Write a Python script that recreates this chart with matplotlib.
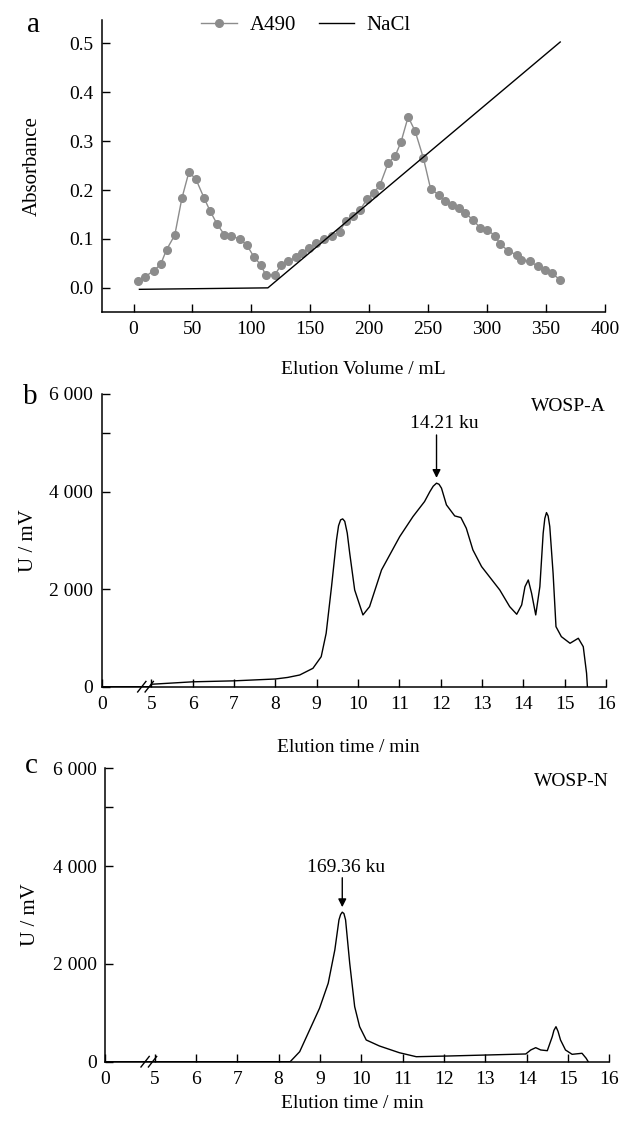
import numpy as np
import matplotlib.pyplot as plt
from matplotlib.transforms import blended_transform_factory

plt.rcParams['font.family'] = ['Liberation Serif', 'DejaVu Serif']

# panel a: DEAE column elution
volume = [4, 10, 17, 23, 28, 35, 41, 47, 53, 60,
          65, 71, 77, 83, 90, 96, 102, 108, 112, 120,
          125, 131, 138, 143, 149, 155,
          162, 168, 175, 180, 186, 192, 198, 204, 209, 216,
          222, 227, 233, 239, 246, 252, 259, 264, 270, 276,
          281, 288, 294, 300, 307, 311, 318, 325, 329, 336,
          343, 349, 355, 362]
a490 = [0.014, 0.023, 0.035, 0.048, 0.078, 0.108, 0.183, 0.237, 0.222, 0.183,
        0.157, 0.130, 0.109, 0.106, 0.100, 0.088, 0.064, 0.047, 0.027, 0.027,
        0.046, 0.054, 0.063, 0.072, 0.082, 0.091,
        0.100, 0.106, 0.115, 0.137, 0.147, 0.159, 0.181, 0.195, 0.210, 0.255,
        0.270, 0.299, 0.350, 0.320, 0.265, 0.203, 0.190, 0.177, 0.169, 0.163,
        0.154, 0.139, 0.123, 0.119, 0.106, 0.089, 0.076, 0.067, 0.057, 0.055,
        0.044, 0.036, 0.030, 0.016]
nacl_vol = [5, 114, 362]
nacl = [-0.003, 0.0, 0.503]

# panel b: WOSP-A HPGPC
tb = [0, 5, 5, 6, 7, 8, 8.3, 8.59, 8.91, 9.11, 9.23, 9.36, 9.48, 9.53, 9.58,
      9.63, 9.68, 9.74, 9.8, 9.92, 10.12, 10.28, 10.57, 11.01, 11.33, 11.61,
      11.74, 11.82, 11.9, 11.96, 12.02, 12.14, 12.34, 12.49, 12.62, 12.78,
      12.99, 13.43, 13.67, 13.84, 13.96, 14.04, 14.12, 14.2, 14.3, 14.4,
      14.48, 14.52, 14.56, 14.6, 14.64, 14.72, 14.79, 14.92, 15.13, 15.33,
      15.45, 15.53, 15.55]
ub = [0, 0, 50, 100, 120, 158, 190, 240, 377, 615, 1095, 2051, 3009, 3300, 3420,
      3440, 3390, 3150, 2736, 1983, 1471, 1641, 2394, 3077, 3487, 3795,
      4000, 4110, 4172, 4150, 4070, 3727, 3501, 3467, 3249, 2804,
      2462, 1983, 1641, 1485, 1676, 2051, 2188, 1915, 1471, 2051,
      3146, 3450, 3569, 3500, 3282, 2326, 1231, 1026, 890, 993,
      820, 275, 0]

# panel c: WOSP-N HPGPC
tc = [0, 5, 8.28, 8.51, 8.75, 8.99, 9.2, 9.36, 9.46, 9.5, 9.54, 9.58, 9.62,
      9.72, 9.84, 9.96, 10.12, 10.44, 10.92, 11.33, 12.13, 13.98, 14.1,
      14.22, 14.34, 14.5, 14.62, 14.66, 14.71, 14.76, 14.82, 14.94, 15.1,
      15.34, 15.44, 15.49]
uc = [0, 0, 0, 205, 649, 1093, 1605, 2286, 2900, 3010, 3058, 3030, 2900,
      2014, 1126, 716, 444, 321, 184, 102, 117, 158, 240,
      287, 240, 225, 512, 640, 716, 620, 444, 240, 151,
      172, 70, 0]

time_ticks = [0, 5, 6, 7, 8, 9, 10, 11, 12, 13, 14, 15, 16]
GAP = 1.2  # width of the broken 0-5 min stretch, in min units


def squeeze(t):
    t = np.asarray(t, dtype=float)
    return np.where(t >= 5, t - 5 + GAP, t * GAP / 5)


W, H = 622, 1124
fig = plt.figure(figsize=(W / 100, H / 100), dpi=100)


def box(l, r, t, b):
    return [l / W, 1 - b / H, (r - l) / W, (b - t) / H]


FS = 14
grey = '#8c8c8c'

# ---- a ----
ax1 = fig.add_axes(box(101.7, 605, 20, 312.3))
ax1.plot(volume, a490, '-o', color=grey, lw=1.0, ms=5.5, label='A490')
ax1.plot(nacl_vol, nacl, '-', color='black', lw=1.0, label='NaCl')
ax1.set_xlim(-27, 400)
ax1.set_ylim(-0.05, 0.548)
ax1.set_xticks(np.arange(0, 401, 50))
ax1.set_yticks(np.arange(0, 0.51, 0.1))
ax1.yaxis.set_major_formatter(plt.FormatStrFormatter('%.1f'))
ax1.set_ylabel('Absorbance', fontsize=15)
ax1.set_xlabel('Elution Volume / mL', fontsize=FS)
ax1.yaxis.set_label_coords(-0.12, 0.5)
ax1.xaxis.set_label_coords(0.52, -0.165)
fig.legend(loc='center', bbox_to_anchor=(0.492, 1 - 25 / H), ncol=2,
           frameon=False, fontsize=15, handlelength=1.7, columnspacing=1.1,
           handletextpad=0.6)
fig.text(33 / W, 1 - 25 / H, 'a', fontsize=21, ha='center', va='center')


def chrom(ax, t, u, name, label_y, peak_text, text_xy, arrow_from, arrow_to):
    ax.plot(squeeze(t), u, color='black', lw=1.0)
    ax.set_xlim(0, 11 + GAP)
    ax.set_ylim(0, 6000)
    ax.set_xticks(squeeze(time_ticks))
    ax.set_xticklabels([str(v) for v in time_ticks])
    ax.set_yticks([0, 2000, 4000, 6000])
    ax.set_yticklabels(['0', '2 000', '4 000', '6 000'])
    ax.set_yticks([5200], minor=True)
    ax.tick_params(which='minor', direction='in', length=6, width=1.0)
    ax.set_ylabel('U / mV', fontsize=15)
    ax.set_xlabel('Elution time / min', fontsize=FS)
    ax.text(1.0, label_y, name, transform=ax.get_yaxis_transform(),
            ha='right', va='center', fontsize=FS)
    ax.text(squeeze(text_xy[0]), text_xy[1], peak_text, ha='center',
            va='center', fontsize=FS)
    ax.annotate('', xy=(squeeze(arrow_to[0]), arrow_to[1]),
                xytext=(squeeze(arrow_from[0]), arrow_from[1]),
                arrowprops=dict(arrowstyle='-|>', color='black', lw=1.0,
                                mutation_scale=12, shrinkA=0, shrinkB=0))
    # axis break marks
    tr = blended_transform_factory(ax.transData, ax.transAxes)
    for c in (0.97, 1.15):
        ax.plot([c - 0.1, c + 0.1], [-0.018, 0.018], color='black', lw=1.0,
                transform=tr, clip_on=False)


ax2 = fig.add_axes(box(101.7, 606, 394, 686.7))
chrom(ax2, tb, ub, 'WOSP-A', 5740, '14.21 ku', (12.1, 5405),
      (11.9, 5160), (11.9, 4280))
ax2.yaxis.set_label_coords(-0.127, 0.5)
ax2.xaxis.set_label_coords(0.49, -0.18)
fig.text(30 / W, 1 - 397 / H, 'b', fontsize=21, ha='center', va='center')

ax3 = fig.add_axes(box(105, 609.3, 768.3, 1061.7))
chrom(ax3, tc, uc, 'WOSP-N', 5727, '169.36 ku', (9.62, 3965),
      (9.54, 3762), (9.54, 3160))
ax3.yaxis.set_label_coords(-0.128, 0.5)
ax3.xaxis.set_label_coords(0.49, -0.115)
fig.text(31 / W, 1 - 766 / H, 'c', fontsize=21, ha='center', va='center')

for ax in (ax1, ax2, ax3):
    for s in ('top', 'right'):
        ax.spines[s].set_visible(False)
    for s in ('left', 'bottom'):
        ax.spines[s].set_linewidth(1.1)
    ax.tick_params(which='major', direction='in', length=6, width=1.0,
                   labelsize=FS)
    ax.tick_params(axis='x', pad=6.5)
    ax.tick_params(axis='y', pad=6)

fig.savefig('out.png', dpi=100)
